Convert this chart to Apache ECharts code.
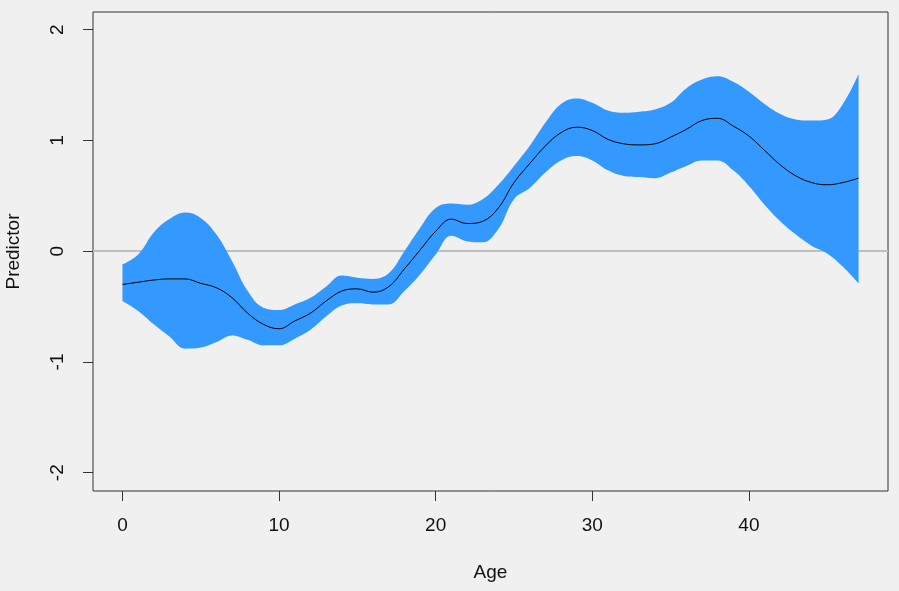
<!DOCTYPE html>
<html>
<head>
<meta charset="utf-8">
<script src="https://cdn.jsdelivr.net/npm/echarts@6/dist/echarts.min.js"></script>
<style>
html,body{margin:0;padding:0;background:#F0F0F0;}
#c{width:899px;height:591px;}
</style>
</head>
<body>
<div id="c"></div>
<script>
var ages = [0,1,2,3,4,5,6,7,8,9,10,11,12,13,14,15,16,17,18,19,20,21,22,23,24,25,26,27,28,29,30,31,32,33,34,35,36,37,38,39,40,41,42,43,44,45,46,47];
var fit = [-0.30,-0.28,-0.26,-0.25,-0.25,-0.29,-0.33,-0.42,-0.56,-0.66,-0.70,-0.63,-0.56,-0.45,-0.36,-0.34,-0.37,-0.32,-0.16,0.01,0.18,0.29,0.25,0.27,0.39,0.62,0.79,0.95,1.07,1.12,1.09,1.01,0.97,0.96,0.97,1.03,1.10,1.18,1.20,1.13,1.04,0.91,0.78,0.68,0.62,0.60,0.62,0.66];
var upper = [-0.12,-0.03,0.17,0.29,0.35,0.30,0.15,-0.09,-0.36,-0.51,-0.53,-0.48,-0.42,-0.32,-0.22,-0.24,-0.25,-0.20,0.00,0.21,0.39,0.43,0.42,0.47,0.60,0.77,0.95,1.16,1.33,1.38,1.34,1.27,1.25,1.26,1.28,1.34,1.47,1.55,1.58,1.53,1.44,1.33,1.24,1.19,1.18,1.19,1.33,1.60];
var lower = [-0.45,-0.54,-0.66,-0.77,-0.88,-0.87,-0.82,-0.76,-0.80,-0.85,-0.85,-0.79,-0.71,-0.59,-0.49,-0.47,-0.48,-0.48,-0.36,-0.21,-0.03,0.14,0.09,0.08,0.20,0.47,0.57,0.71,0.82,0.86,0.82,0.73,0.68,0.67,0.66,0.71,0.77,0.82,0.82,0.73,0.59,0.42,0.27,0.15,0.05,-0.02,-0.14,-0.29];
var xTicks = [0,10,20,30,40];
var yTicks = [-2,-1,0,1,2];

// value first, age second, so that stacking acts on the value dimension
var lowerData = ages.map(function(a,i){return [lower[i], a];});
var widthData = ages.map(function(a,i){return [+(upper[i]-lower[i]).toFixed(3), a];});
var fitData = ages.map(function(a,i){return [a, fit[i]];});

var font = 'Liberation Sans, Arial, sans-serif';
var chart = echarts.init(document.getElementById('c'), null, {renderer:'canvas'});
chart.setOption({
  backgroundColor:'#F0F0F0',
  animation:false,
  grid:{left:93,right:11,top:12,bottom:100,outerBoundsMode:'none',containLabel:false,show:true,borderColor:'#333',borderWidth:1,backgroundColor:'transparent'},
  xAxis:{
    type:'value',min:-1.88,max:48.88,
    name:'Age',nameLocation:'middle',nameGap:72,
    nameTextStyle:{fontFamily:font,fontSize:19,color:'#111'},
    axisLine:{show:false,onZero:false},
    axisTick:{show:true,length:10,inside:false,customValues:xTicks,lineStyle:{color:'#333',width:1}},
    axisLabel:{customValues:xTicks,margin:25,fontFamily:font,fontSize:19,color:'#111'},
    splitLine:{show:false}
  },
  yAxis:{
    type:'value',min:-2.165,max:2.16,
    name:'Predictor',nameLocation:'middle',nameGap:70,nameRotate:90,
    nameTextStyle:{fontFamily:font,fontSize:19,color:'#111'},
    axisLine:{show:false,onZero:false},
    axisTick:{show:true,length:10,inside:false,customValues:yTicks,lineStyle:{color:'#333',width:1}},
    axisLabel:{customValues:yTicks,rotate:90,margin:26,fontFamily:font,fontSize:19,color:'#111'},
    splitLine:{show:false}
  },
  series:[
    {type:'line',data:lowerData,encode:{x:1,y:0},stack:'band',stackStrategy:'all',smooth:0.4,symbol:'none',
     lineStyle:{opacity:0,width:0},
     markLine:{z:1,silent:true,symbol:['none','none'],label:{show:false},
       lineStyle:{color:'#BEBEBE',width:2,type:'solid'},data:[{yAxis:0}]}},
    {type:'line',data:widthData,encode:{x:1,y:0},stack:'band',stackStrategy:'all',smooth:0.4,symbol:'none',
     lineStyle:{opacity:0,width:0},areaStyle:{color:'#3399FF',opacity:1}},
    {type:'line',data:fitData,smooth:0.4,symbol:'none',lineStyle:{color:'#000',width:1}}
  ]
});
</script>
</body>
</html>
